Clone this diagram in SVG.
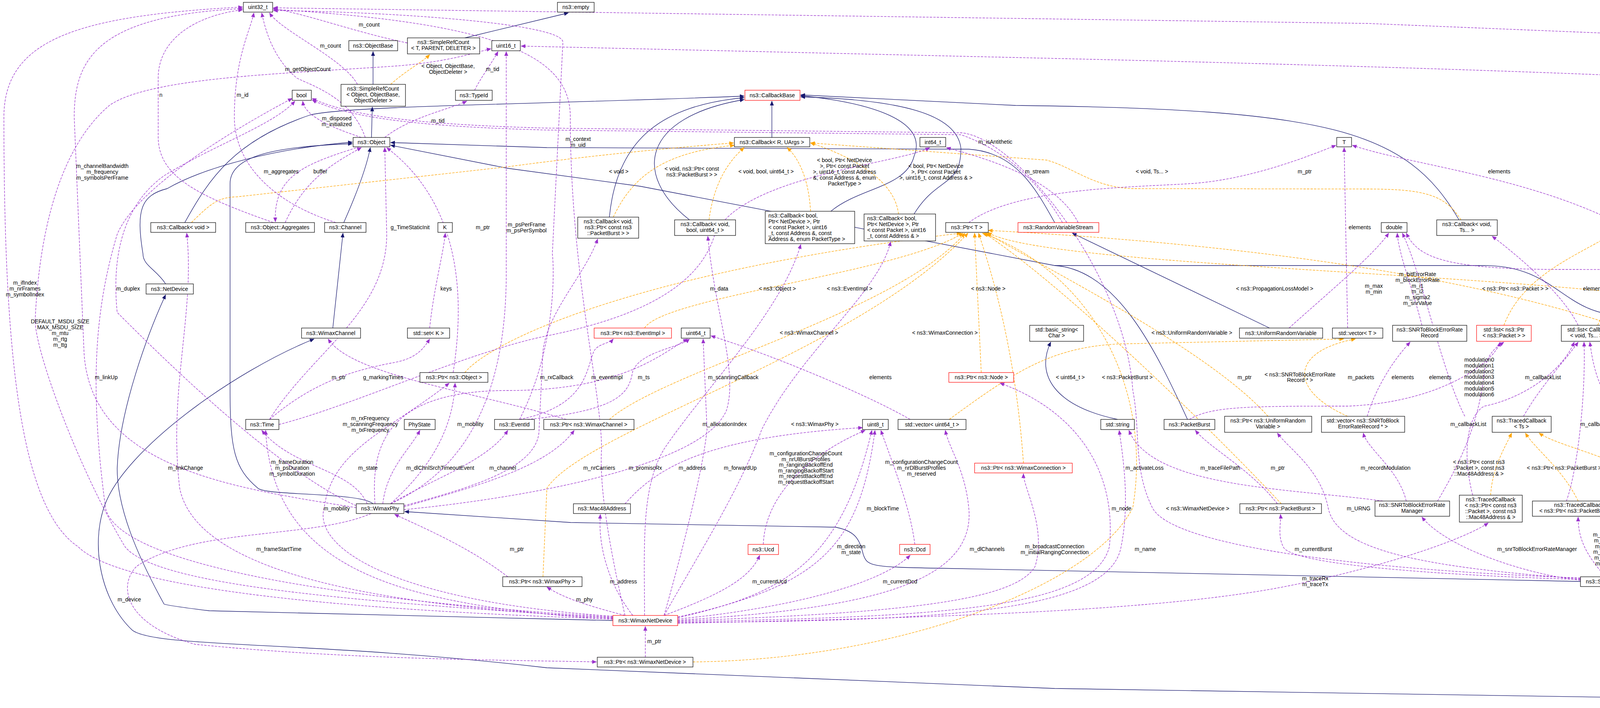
<svg xmlns="http://www.w3.org/2000/svg" width="5339" height="1813" viewBox="0 0 5339 1813">
<style>
text{font-family:"Liberation Sans",Arial,sans-serif;font-size:14px;fill:#000}
.c{text-anchor:middle}
.b rect{fill:#fff;stroke:#000;stroke-width:1.2}
.r rect{fill:#fff;stroke:#f00;stroke-width:1.2}
.g rect{fill:#bfbfbf;stroke:#000;stroke-width:1.2}
.u{fill:none;stroke:#9a32cd;stroke-width:1.3;stroke-dasharray:6,3;marker-end:url(#mu)}
.i{fill:none;stroke:#191970;stroke-width:1.3;marker-end:url(#mi)}
.i0{fill:none;stroke:#191970;stroke-width:1.3}
.t{fill:none;stroke:orange;stroke-width:1.3;stroke-dasharray:6,3;marker-end:url(#mt)}
</style>
<defs>
<marker id="mu" markerWidth="12" markerHeight="10" refX="11" refY="5" orient="auto" markerUnits="userSpaceOnUse"><path d="M0,0 L12,5 L0,10 z" fill="#9a32cd"/></marker>
<marker id="mi" markerWidth="12" markerHeight="10" refX="11" refY="5" orient="auto" markerUnits="userSpaceOnUse"><path d="M0,0 L12,5 L0,10 z" fill="#191970"/></marker>
<marker id="mt" markerWidth="12" markerHeight="10" refX="11" refY="5" orient="auto" markerUnits="userSpaceOnUse"><path d="M0,0 L12,5 L0,10 z" fill="orange"/></marker>
</defs>
<rect width="5339" height="1813" fill="#fff"/>
<g id="edges">
<path class="i" d="M1190,97 L1455,33"/>
<path class="i" d="M955,216 L955,132"/>
<path class="i" d="M951,352 L953,274"/>
<path class="i" d="M473,570 C536,456 600,360 795,294 C900,270 1400,267 1905,246"/>
<path class="i" d="M880,570 C920,480 940,420 948,378"/>
<path class="i" d="M852,840 L878,597"/>
<path class="i" d="M424,727 C400,690 366,680 366,650 C348,539 360,500 428,483 C520,430 700,380 902,364"/>
<path class="i" d="M1569,1589 L1400,1585 L536,1564 C470,1556 430,1550 420,1547 C350,1420 300,1300 300,1200 C305,1050 380,850 424,755"/>
<path class="i" d="M955,1290 C920,1260 680,1270 660,1250 C600,1200 589,1150 589,1000 L589,470 C589,400 700,375 902,368"/>
<path class="i" d="M4046,1489 L2400,1455 C2230,1452 2220,1450 2210,1420 C2200,1380 2190,1360 2139,1350 L1461,1338 L1036,1310"/>
<path class="i" d="M4719,1795 L2700,1763 L1400,1710 C800,1640 400,1660 339,1614 C260,1540 230,1400 268,1294 C320,1150 600,950 804,868"/>
<path class="i" d="M1976,352 L1976,259"/>
<path class="i" d="M1560,556 C1580,350 1700,270 1905,250"/>
<path class="i" d="M1765,563 C1620,450 1640,300 1905,255"/>
<path class="i" d="M2127,541 C2200,480 2320,480 2340,400 C2380,300 2200,260 2050,245"/>
<path class="i" d="M2340,548 C2400,450 2460,480 2460,380 C2450,290 2300,255 2050,248"/>
<path class="i" d="M3735,563 C3600,330 3400,280 2600,270 L2050,243"/>
<path class="i" d="M2700,570 C2650,480 2600,390 2480,382 L1400,378 L1000,365"/>
<path class="i" d="M3250,840 L2745,597"/>
<path class="i" d="M3040,1074 C2960,900 2860,690 2700,680 L1639,477 L1300,431 L1000,372"/>
<path class="i0" d="M4560,1074 C4450,900 4250,810 4144,807 C4000,800 3980,680 3800,680 L2700,680"/>
<path class="i" d="M2861,1074 C2700,1040 2650,960 2690,876"/>
<path class="t" d="M1000,216 C1040,180 1080,160 1100,140"/>
<path class="t" d="M490,570 C540,520 560,505 607,504 L1300,427 C1500,400 1700,380 1878,366"/>
<path class="t" d="M1570,556 C1620,450 1700,390 1880,372"/>
<path class="t" d="M1815,563 C1830,450 1880,400 1905,378"/>
<path class="t" d="M2075,541 C2070,450 2040,400 2015,378"/>
<path class="t" d="M2300,548 C2290,450 2150,390 2075,366"/>
<path class="t" d="M3740,563 C3700,500 3650,484 3500,484 L2900,483 C2800,480 2750,430 2680,410 L2075,366"/>
<path class="t" d="M1190,954 C1250,880 1600,700 2460,597"/>
<path class="t" d="M1650,840 C1700,760 2300,700 2465,597"/>
<path class="t" d="M1560,1074 C1700,950 2300,800 2470,597"/>
<path class="t" d="M2512,954 L2495,597"/>
<path class="t" d="M2620,1186 C2600,900 2540,700 2505,597"/>
<path class="t" d="M1390,1477 L1400,1250 C1500,1100 2200,900 2478,597"/>
<path class="t" d="M1774,1695 C2300,1690 2800,1500 2900,1300 C2950,1000 2800,700 2515,597"/>
<path class="t" d="M3280,1290 C3150,1150 2750,750 2520,597"/>
<path class="t" d="M3246,1066 C3100,900 2700,700 2525,597"/>
<path class="t" d="M4550,833 C4400,700 2700,700 2528,595"/>
<path class="t" d="M4835,1569 C4900,1200 4600,700 2530,590"/>
<path class="t" d="M2430,1074 C2600,950 2700,880 2900,880 L3440,868"/>
<path class="t" d="M3450,1066 C3300,1000 3300,900 3470,868"/>
<path class="t" d="M3850,833 C3900,700 4050,650 4130,597"/>
<path class="t" d="M4090,833 C4150,700 4160,650 4165,597"/>
<path class="t" d="M4360,1074 C4350,800 4300,650 4200,597"/>
<path class="t" d="M4870,1676 C5100,1500 5200,1000 4215,595"/>
<path class="t" d="M3816,1268 C3820,1200 3850,1150 3870,1109"/>
<path class="t" d="M4040,1283 C4000,1200 3930,1150 3905,1109"/>
<path class="t" d="M4260,1275 C4200,1180 4000,1150 3940,1109"/>
<path class="u" d="M1043,110 C900,80 800,40 700,22"/>
<path class="u" d="M915,216 C880,150 720,80 690,33"/>
<path class="u" d="M935,352 C900,250 800,220 760,200 C700,150 680,80 670,33"/>
<path class="u" d="M925,352 C860,330 780,300 775,259"/>
<path class="u" d="M985,352 C1050,300 1150,280 1195,259"/>
<path class="u" d="M1215,231 C1230,200 1260,160 1275,132"/>
<path class="u" d="M700,570 C500,500 405,450 405,350 L405,200 C405,100 500,40 621,25"/>
<path class="u" d="M860,570 C700,520 600,420 600,300 C600,150 640,80 650,33"/>
<path class="u" d="M920,376 C780,420 700,450 705,568"/>
<path class="u" d="M730,570 C780,460 850,420 925,378"/>
<path class="u" d="M690,1074 C800,900 990,800 990,600 L985,378"/>
<path class="u" d="M1160,954 C1200,700 1150,500 990,378"/>
<path class="u" d="M1000,1290 C1200,1200 1296,1000 1296,700 L1296,132"/>
<path class="u" d="M912,1300 C600,1250 230,1200 215,900 L190,300 C190,150 250,40 621,22"/>
<path class="u" d="M1569,1585 C800,1560 300,1500 200,1400 C50,1300 10,900 10,300 C10,100 200,40 621,18"/>
<path class="u" d="M1569,1583 C900,1540 400,1500 320,1400 C200,1200 90,900 90,820 C100,600 150,380 280,270 C380,200 700,190 1000,170 C1150,160 1230,130 1257,125"/>
<path class="u" d="M1569,1580 C900,1540 300,1450 270,1300 C230,1000 240,800 300,600 C350,480 600,330 748,252"/>
<path class="u" d="M912,1295 C700,1200 400,900 300,800 C280,600 350,500 420,450 C550,370 700,320 755,259"/>
<path class="u" d="M1569,1582 C900,1550 500,1450 460,1250 C430,1000 500,800 478,597"/>
<path class="u" d="M1569,1578 C1000,1540 800,1400 830,1300 C850,1150 1000,1100 1150,981"/>
<path class="u" d="M1000,1290 C1100,1200 1160,1100 1165,981"/>
<path class="u" d="M1450,1074 C1200,1000 900,960 840,868"/>
<path class="u" d="M690,1074 C800,980 900,950 1000,930 C1060,920 1080,900 1100,868"/>
<path class="u" d="M1100,840 C1110,740 1135,650 1140,597"/>
<path class="u" d="M960,1290 C950,1150 980,1000 1300,1000 C1600,1000 1700,900 1760,868"/>
<path class="u" d="M980,1290 C990,1200 1050,1150 1075,1102"/>
<path class="u" d="M940,1290 C900,1200 750,1200 670,1102"/>
<path class="u" d="M1000,1290 C1100,1230 1250,1180 1300,1102"/>
<path class="u" d="M1034,1298 C1200,1250 1400,1200 1470,1102"/>
<path class="u" d="M1569,1586 C1000,1550 700,1450 680,1102"/>
<path class="u" d="M1300,1477 C1200,1400 1080,1350 1010,1317"/>
<path class="u" d="M950,1315 C800,1380 500,1350 350,1450 C300,1500 320,1600 500,1650 C900,1690 1300,1690 1527,1695"/>
<path class="u" d="M1600,1576 C1500,1550 1440,1530 1400,1503"/>
<path class="u" d="M1620,1576 C1560,1500 1530,1400 1537,1317"/>
<path class="u" d="M1600,1290 C1680,1200 1800,1120 2208,1095"/>
<path class="u" d="M1700,1576 C1850,1520 1920,1480 1945,1422"/>
<path class="u" d="M1735,1585 C2000,1560 2250,1500 2330,1422"/>
<path class="u" d="M1652,1683 L1652,1604"/>
<path class="u" d="M1600,1576 C1560,1400 1534,1250 1540,1150 C1540,1000 1460,700 1460,300 C1460,150 1300,60 700,24"/>
<path class="u" d="M1330,1074 C1420,900 1420,700 1414,650 L1441,108 C1441,60 1000,30 700,27"/>
<path class="u" d="M1650,1576 C1650,1400 1640,1250 1700,1150 C1800,1000 2000,800 2050,626"/>
<path class="u" d="M1700,1576 C1800,1400 1895,1250 1950,1100 C2050,900 2250,750 2280,619"/>
<path class="u" d="M1034,1295 C1200,1250 1380,1200 1380,1100 L1390,900 C1400,800 1500,700 1530,612"/>
<path class="u" d="M1330,1074 C1500,1040 1500,950 1520,900 C1530,880 1560,880 1570,868"/>
<path class="u" d="M1350,1074 C1600,1050 1610,1000 1620,950 C1640,900 1740,890 1765,868"/>
<path class="u" d="M714,1087 C900,1040 1200,900 1400,860 C1700,800 1800,700 1830,600 C1900,450 2300,420 2380,378"/>
<path class="u" d="M1034,1305 C1300,1280 1800,1200 1860,1050 C1890,950 1830,800 1812,605"/>
<path class="u" d="M2330,1074 C2200,1000 1950,900 1820,860"/>
<path class="u" d="M1700,1576 C1750,1400 1800,1200 1810,1100 L1800,868"/>
<path class="u" d="M1954,1394 C1960,1250 2100,1150 2215,1102"/>
<path class="u" d="M2342,1394 C2330,1300 2290,1200 2255,1102"/>
<path class="u" d="M1735,1580 C2100,1500 2200,1400 2240,1102"/>
<path class="u" d="M1735,1582 C2000,1520 2150,1450 2232,1102"/>
<path class="u" d="M1735,1588 C2200,1560 2500,1500 2480,1300 C2470,1200 2430,1150 2420,1102"/>
<path class="u" d="M1735,1590 C2300,1570 2600,1540 2650,1450 C2680,1350 2620,1250 2620,1213"/>
<path class="u" d="M1735,1592 C2400,1580 2800,1560 2840,1400 C2860,1200 2750,1050 2560,981"/>
<path class="u" d="M1735,1594 C2400,1590 2840,1570 2870,1400 C2890,1300 2880,1200 2865,1102"/>
<path class="u" d="M4046,1480 C3500,1460 3000,1400 2950,1300 C2900,1200 2920,1100 2900,1000 C2880,700 2600,350 2460,340 L1400,328 C1100,320 900,300 799,252"/>
<path class="u" d="M2720,570 C2650,450 2560,380 2460,345 L1400,333 C1100,325 900,305 799,256"/>
<path class="u" d="M2760,570 C2700,450 2500,400 2423,378"/>
<path class="u" d="M3540,1283 C3300,1250 2950,1250 2890,1102"/>
<path class="u" d="M3270,1290 C3200,1200 3100,1150 3060,1102"/>
<path class="u" d="M4046,1482 C3600,1450 3420,1400 3400,1300 C3380,1200 3300,1150 3270,1109"/>
<path class="u" d="M4046,1484 C3600,1470 3300,1440 3285,1400 C3270,1370 3280,1340 3278,1317"/>
<path class="u" d="M4046,1486 C3900,1470 3700,1400 3640,1324"/>
<path class="u" d="M3600,1283 C3580,1200 3500,1150 3490,1109"/>
<path class="u" d="M3045,1074 C3100,1040 3200,1040 3450,1040 C3700,1030 3830,920 3840,876"/>
<path class="u" d="M3500,1066 C3520,1000 3560,930 3610,876"/>
<path class="u" d="M3680,1283 C3760,1150 3790,1050 3800,950 C3810,900 3830,890 3850,876"/>
<path class="u" d="M3750,1066 C3690,950 3640,700 3590,597"/>
<path class="u" d="M3900,1066 C3950,980 4010,920 4040,876"/>
<path class="u" d="M3770,1268 C3740,1150 3760,1060 3800,1040 C3900,1020 4000,950 4030,876"/>
<path class="u" d="M4010,1283 C4040,1200 4060,1000 4055,876"/>
<path class="u" d="M4300,1275 C4320,1200 4280,1100 4200,1080 C4100,1050 4080,950 4070,876"/>
<path class="u" d="M3640,833 C3620,750 3580,650 3577,597"/>
<path class="u" d="M3300,840 C3400,750 3520,650 3555,597"/>
<path class="u" d="M3450,840 L3441,378"/>
<path class="u" d="M4140,570 C3900,450 3600,420 3462,372"/>
<path class="u" d="M2480,570 C2600,480 2900,480 3050,470 C3200,460 3350,400 3420,372"/>
<path class="u" d="M4040,833 C4000,750 3880,650 3820,605"/>
<path class="u" d="M4520,1074 C4500,1000 4500,930 4530,876"/>
<path class="u" d="M4560,874 L4560,1072"/>
<path class="u" d="M4200,1477 C4600,1350 4790,1200 4790,1000 C4790,700 4600,690 4000,690 C3700,690 3630,660 3600,597"/>
<path class="u" d="M4249,1480 C4500,1400 4880,1300 4880,1000 L4880,250 C4870,230 4500,190 2500,145 L1334,118"/>
<path class="u" d="M4249,1485 C4700,1420 5091,1250 5091,900 L5091,125 L3500,60 L700,20"/>
<path class="u" d="M4230,1477 C4400,1400 4390,1200 4365,1102"/>
<path class="u" d="M4110,1477 C4060,1420 4040,1380 4040,1324"/>
<path class="u" d="M4180,1477 C4230,1420 4255,1380 4260,1332"/>
<path class="u" d="M1735,1596 C2500,1580 3000,1560 3300,1500 C3550,1450 3750,1380 3810,1339"/>
<path class="u" d="M4900,1782 C4990,1740 5000,1700 5000,1600 L5000,1300 C4990,1100 4700,900 4610,876"/>
<path class="u" d="M4736,1585 C4500,1550 4350,1510 4251,1504"/>
<path class="u" d="M4835,1676 L4835,1611"/>
<path class="u" d="M4835,1782 L4835,1718"/>
</g>
<g id="labels">
<text class="c" x="945" y="68">m_count</text>
<text class="c" x="846" y="122">m_count</text>
<text class="c" x="1147" y="174">&lt; Object, ObjectBase,<tspan x="1147" dy="15">ObjectDeleter &gt;</tspan></text>
<text class="c" x="1261" y="182">m_tid</text>
<text class="c" x="788" y="182">m_getObjectCount</text>
<text class="c" x="412" y="248">n</text>
<text class="c" x="621" y="248">m_id</text>
<text class="c" x="862" y="308">m_disposed<tspan x="862" dy="15">m_initialized</tspan></text>
<text class="c" x="1121" y="314">m_tid</text>
<text class="c" x="262" y="430">m_channelBandwidth<tspan x="262" dy="15">m_frequency</tspan><tspan x="262" dy="15">m_symbolsPerFrame</tspan></text>
<text class="c" x="720" y="444">m_aggregates</text>
<text class="c" x="820" y="444">buffer</text>
<text class="c" x="1050" y="587">g_TimeStaticInit</text>
<text class="c" x="1236" y="587">m_ptr</text>
<text class="c" x="1348" y="580">m_psPerFrame<tspan x="1348" dy="15">m_psPerSymbol</tspan></text>
<text class="c" x="1480" y="361">m_context<tspan x="1480" dy="15">m_uid</tspan></text>
<text class="c" x="1584" y="444">&lt; void &gt;</text>
<text class="c" x="1771" y="437">&lt; void, ns3::Ptr&lt; const<tspan x="1771" dy="15">ns3::PacketBurst &gt; &gt;</tspan></text>
<text class="c" x="1961" y="444">&lt; void, bool, uint64_t &gt;</text>
<text class="c" x="2162" y="415">&lt; bool, Ptr&lt; NetDevice<tspan x="2162" dy="15">&gt;, Ptr&lt; const Packet</tspan><tspan x="2162" dy="15">&gt;, uint16_t, const Address</tspan><tspan x="2162" dy="15">&amp;, const Address &amp;, enum</tspan><tspan x="2162" dy="15">PacketType &gt;</tspan></text>
<text class="c" x="2396" y="430">&lt; bool, Ptr&lt; NetDevice<tspan x="2396" dy="15">&gt;, Ptr&lt; const Packet</tspan><tspan x="2396" dy="15">&gt;, uint16_t, const Address &amp; &gt;</tspan></text>
<text class="c" x="2548" y="368">m_isAntithetic</text>
<text class="c" x="2655" y="444">m_stream</text>
<text class="c" x="2949" y="444">&lt; void, Ts... &gt;</text>
<text class="c" x="3340" y="444">m_ptr</text>
<text class="c" x="3838" y="444">elements</text>
<text class="c" x="3481" y="587">elements</text>
<text class="c" x="5167" y="514">m_currentBurstSize<tspan x="5167" dy="14.6">m_dataRateBpsk12</tspan><tspan x="5167" dy="14.6">m_dataRateQam16_12</tspan><tspan x="5167" dy="14.6">m_dataRateQam16_34</tspan><tspan x="5167" dy="14.6">m_dataRateQam64_23</tspan><tspan x="5167" dy="14.6">m_dataRateQam64_34</tspan><tspan x="5167" dy="14.6">m_dataRateQpsk12</tspan><tspan x="5167" dy="14.6">m_dataRateQpsk34</tspan><tspan x="5167" dy="14.6">m_nrFecBlocksSent</tspan><tspan x="5167" dy="14.6">m_paddingBits</tspan><tspan x="5167" dy="14.6">...</tspan></text>
<text class="c" x="64" y="729">m_ifIndex<tspan x="64" dy="15">m_nrFrames</tspan><tspan x="64" dy="15">m_symbolIndex</tspan></text>
<text class="c" x="328" y="744">m_duplex</text>
<text class="c" x="1142" y="744">keys</text>
<text class="c" x="154" y="828">DEFAULT_MSDU_SIZE<tspan x="154" dy="15">MAX_MSDU_SIZE</tspan><tspan x="154" dy="15">m_mtu</tspan><tspan x="154" dy="15">m_rtg</tspan><tspan x="154" dy="15">m_ttg</tspan></text>
<text class="c" x="272" y="971">m_linkUp</text>
<text class="c" x="867" y="971">m_ptr</text>
<text class="c" x="981" y="971">g_markingTimes</text>
<text class="c" x="948" y="1076">m_rxFrequency<tspan x="948" dy="15">m_scanningFrequency</tspan><tspan x="948" dy="15">m_txFrequency</tspan></text>
<text class="c" x="1204" y="1091">m_mobility</text>
<text class="c" x="475" y="1203">m_linkChange</text>
<text class="c" x="748" y="1188">m_frameDuration<tspan x="748" dy="15">m_psDuration</tspan><tspan x="748" dy="15">m_symbolDuration</tspan></text>
<text class="c" x="942" y="1203">m_state</text>
<text class="c" x="1127" y="1203">m_dlChnlSrchTimeoutEvent</text>
<text class="c" x="1287" y="1203">m_channel</text>
<text class="c" x="1841" y="744">m_data</text>
<text class="c" x="1990" y="744">&lt; ns3::Object &gt;</text>
<text class="c" x="2175" y="744">&lt; ns3::EventImpl &gt;</text>
<text class="c" x="2530" y="744">&lt; ns3::Node &gt;</text>
<text class="c" x="2071" y="857">&lt; ns3::WimaxChannel &gt;</text>
<text class="c" x="2419" y="857">&lt; ns3::WimaxConnection &gt;</text>
<text class="c" x="1425" y="971">m_rxCallback</text>
<text class="c" x="1554" y="971">m_eventImpl</text>
<text class="c" x="1648" y="971">m_ts</text>
<text class="c" x="1877" y="971">m_scanningCallback</text>
<text class="c" x="2254" y="971">elements</text>
<text class="c" x="1855" y="1091">m_allocationIndex</text>
<text class="c" x="2086" y="1091">&lt; ns3::WimaxPhy &gt;</text>
<text class="c" x="1534" y="1203">m_nrCarriers</text>
<text class="c" x="1652" y="1203">m_promiscRx</text>
<text class="c" x="1772" y="1203">m_address</text>
<text class="c" x="1895" y="1203">m_forwardUp</text>
<text class="c" x="2063" y="1166">m_configurationChangeCount<tspan x="2063" dy="14.6">m_nrUlBurstProfiles</tspan><tspan x="2063" dy="14.6">m_rangingBackoffEnd</tspan><tspan x="2063" dy="14.6">m_rangingBackoffStart</tspan><tspan x="2063" dy="14.6">m_requestBackoffEnd</tspan><tspan x="2063" dy="14.6">m_requestBackoffStart</tspan></text>
<text class="c" x="2359" y="1188">m_configurationChangeCount<tspan x="2359" dy="15">m_nrDlBurstProfiles</tspan><tspan x="2359" dy="15">m_reserved</tspan></text>
<text class="c" x="3263" y="744">&lt; ns3::PropagationLossModel &gt;</text>
<text class="c" x="3517" y="737">m_max<tspan x="3517" dy="15">m_min</tspan></text>
<text class="c" x="3629" y="707">m_bitErrorRate<tspan x="3629" dy="14.8">m_blockErrorRate</tspan><tspan x="3629" dy="14.8">m_i1</tspan><tspan x="3629" dy="14.8">m_i2</tspan><tspan x="3629" dy="14.8">m_sigma2</tspan><tspan x="3629" dy="14.8">m_snrValue</tspan></text>
<text class="c" x="3879" y="744">&lt; ns3::Ptr&lt; ns3::Packet &gt; &gt;</text>
<text class="c" x="3051" y="857">&lt; ns3::UniformRandomVariable &gt;</text>
<text class="c" x="2740" y="971">&lt; uint64_t &gt;</text>
<text class="c" x="2886" y="971">&lt; ns3::PacketBurst &gt;</text>
<text class="c" x="3186" y="971">m_ptr</text>
<text class="c" x="3328" y="964">&lt; ns3::SNRToBlockErrorRate<tspan x="3328" dy="14">Record * &gt;</tspan></text>
<text class="c" x="3484" y="971">m_packets</text>
<text class="c" x="3591" y="971">elements</text>
<text class="c" x="3687" y="971">elements</text>
<text class="c" x="3787" y="926">modulation0<tspan x="3787" dy="14.8">modulation1</tspan><tspan x="3787" dy="14.8">modulation2</tspan><tspan x="3787" dy="14.8">modulation3</tspan><tspan x="3787" dy="14.8">modulation4</tspan><tspan x="3787" dy="14.8">modulation5</tspan><tspan x="3787" dy="14.8">modulation6</tspan></text>
<text class="c" x="3950" y="971">m_callbackList</text>
<text class="c" x="3759" y="1091">m_callbackList</text>
<text class="c" x="2930" y="1203">m_activateLoss</text>
<text class="c" x="3124" y="1203">m_traceFilePath</text>
<text class="c" x="3271" y="1203">m_ptr</text>
<text class="c" x="3547" y="1203">m_recordModulation</text>
<text class="c" x="3786" y="1188">&lt; ns3::Ptr&lt; const ns3<tspan x="3786" dy="15">::Packet &gt;, const ns3</tspan><tspan x="3786" dy="15">::Mac48Address &amp; &gt;</tspan></text>
<text class="c" x="4010" y="1203">&lt; ns3::Ptr&lt; ns3::PacketBurst &gt; &gt;</text>
<text class="c" x="4081" y="744">elements</text>
<text class="c" x="4257" y="744">&lt; Callback&lt; void, Ts... &gt; &gt;</text>
<text class="c" x="4407" y="857">&lt; bvec &gt;</text>
<text class="c" x="4521" y="971">m_next</text>
<text class="c" x="4576" y="971">m_ptr</text>
<text class="c" x="4092" y="1091">m_callbackList</text>
<text class="c" x="4234" y="1091">m_callbackList</text>
<text class="c" x="4975" y="700">m_blockSize<tspan x="4975" dy="14.7">m_fecBlockSize</tspan><tspan x="4975" dy="14.7">m_nbErroneousBlock</tspan><tspan x="4975" dy="14.7">m_nfft</tspan><tspan x="4975" dy="14.7">m_nrBlocks</tspan><tspan x="4975" dy="14.7">m_nrRecivedFecBlocks</tspan><tspan x="4975" dy="14.7">m_nrRemainingBlocksToSend</tspan></text>
<text class="c" x="4780" y="1054">m_bandWidth<tspan x="4780" dy="14.8">m_g</tspan><tspan x="4780" dy="14.8">m_noiseFigure</tspan><tspan x="4780" dy="14.8">m_rxGain</tspan><tspan x="4780" dy="14.8">m_txGain</tspan><tspan x="4780" dy="14.8">m_txPower</tspan></text>
<text class="c" x="4247" y="1195">&lt; ns3::Ptr&lt; const ns3<tspan x="4247" dy="15">::PacketBurst &gt; &gt;</tspan></text>
<text class="c" x="4990" y="1203">&lt; ns3::SimpleOfdmWimaxPhy &gt;</text>
<text class="c" x="862" y="1307">m_mobility</text>
<text class="c" x="714" y="1411">m_frameStartTime</text>
<text class="c" x="1323" y="1411">m_ptr</text>
<text class="c" x="331" y="1540">m_device</text>
<text class="c" x="2260" y="1307">m_blockTime</text>
<text class="c" x="2179" y="1404">m_direction<tspan x="2179" dy="15">m_state</tspan></text>
<text class="c" x="2527" y="1411">m_dlChannels</text>
<text class="c" x="1596" y="1494">m_address</text>
<text class="c" x="1970" y="1494">m_currentUcd</text>
<text class="c" x="2304" y="1494">m_currentDcd</text>
<text class="c" x="1496" y="1540">m_phy</text>
<text class="c" x="1675" y="1647">m_ptr</text>
<text class="c" x="2700" y="1404">m_broadcastConnection<tspan x="2700" dy="15">m_initialRangingConnection</tspan></text>
<text class="c" x="2871" y="1307">m_node</text>
<text class="c" x="2932" y="1411">m_name</text>
<text class="c" x="3066" y="1307">&lt; ns3::WimaxNetDevice &gt;</text>
<text class="c" x="3478" y="1307">m_URNG</text>
<text class="c" x="3362" y="1411">m_currentBurst</text>
<text class="c" x="3935" y="1411">m_snrToBlockErrorRateManager</text>
<text class="c" x="3367" y="1486">m_traceRx<tspan x="3367" dy="15">m_traceTx</tspan></text>
<text class="c" x="4465" y="1300">m_fecBlocks<tspan x="4465" dy="15">m_receivedFecBlocks</tspan></text>
<text class="c" x="5235" y="1300">&lt; ns3::Ptr&lt; ns3::SimpleOfdm<tspan x="5235" dy="15">WimaxPhy &gt; &gt;</tspan></text>
<text class="c" x="4143" y="1374">m_phyRxBeginTrace<tspan x="4143" dy="14.8">m_phyRxDropTrace</tspan><tspan x="4143" dy="14.8">m_phyRxEndTrace</tspan><tspan x="4143" dy="14.8">m_phyTxBeginTrace</tspan><tspan x="4143" dy="14.8">m_phyTxDropTrace</tspan><tspan x="4143" dy="14.8">m_phyTxEndTrace</tspan></text>
<text class="c" x="4293" y="1404">m_traceRx<tspan x="4293" dy="15">m_traceTx</tspan></text>
<text class="c" x="5022" y="1494">m_loss</text>
<text class="c" x="4535" y="1540">m_ptr</text>
<text class="c" x="4869" y="1647">elements</text>
<text class="c" x="4872" y="1754">m_phyList</text>
</g>
<g id="n1" class="b"><rect x="623" y="6" width="75" height="25"/><text class="c" x="660" y="23">uint32_t</text></g>
<g id="n2" class="b"><rect x="1427" y="6" width="94" height="25"/><text class="c" x="1474" y="23">ns3::empty</text></g>
<g id="n3" class="b"><rect x="893" y="104" width="125" height="26"/><text class="c" x="955" y="122">ns3::ObjectBase</text></g>
<g id="n4" class="b"><rect x="1043" y="97" width="185" height="41"/><text class="c" x="1135" y="113">ns3::SimpleRefCount<tspan x="1135" dy="15">&lt; T, PARENT, DELETER &gt;</tspan></text></g>
<g id="n5" class="b"><rect x="1259" y="104" width="73" height="26"/><text class="c" x="1295" y="122">uint16_t</text></g>
<g id="n6" class="b"><rect x="748" y="231" width="49" height="26"/><text class="c" x="772" y="249">bool</text></g>
<g id="n7" class="b"><rect x="873" y="216" width="165" height="56"/><text class="c" x="955" y="232">ns3::SimpleRefCount<tspan x="955" dy="15">&lt; Object, ObjectBase,</tspan><tspan x="955" dy="15">ObjectDeleter &gt;</tspan></text></g>
<g id="n8" class="b"><rect x="1166" y="231" width="94" height="26"/><text class="c" x="1213" y="249">ns3::TypeId</text></g>
<g id="n9" class="r"><rect x="1907" y="231" width="141" height="26"/><text class="c" x="1977" y="249">ns3::CallbackBase</text></g>
<g id="n10" class="b"><rect x="904" y="352" width="94" height="24"/><text class="c" x="951" y="369">ns3::Object</text></g>
<g id="n11" class="b"><rect x="1880" y="352" width="193" height="24"/><text class="c" x="1976" y="369">ns3::Callback&lt; R, UArgs &gt;</text></g>
<g id="n12" class="b"><rect x="2355" y="352" width="66" height="24"/><text class="c" x="2388" y="369">int64_t</text></g>
<g id="n13" class="b"><rect x="3422" y="352" width="38" height="24"/><text class="c" x="3441" y="369">T</text></g>
<g id="n14" class="b"><rect x="386" y="570" width="166" height="25"/><text class="c" x="469" y="587">ns3::Callback&lt; void &gt;</text></g>
<g id="n15" class="b"><rect x="629" y="570" width="176" height="25"/><text class="c" x="717" y="587">ns3::Object::Aggregates</text></g>
<g id="n16" class="b"><rect x="831" y="570" width="106" height="25"/><text class="c" x="884" y="587">ns3::Channel</text></g>
<g id="n17" class="b"><rect x="1121" y="570" width="37" height="25"/><text class="c" x="1139" y="587">K</text></g>
<g id="n18" class="b"><rect x="1479" y="556" width="156" height="54"/><text class="c" x="1557" y="572">ns3::Callback&lt; void,<tspan x="1557" dy="15">ns3::Ptr&lt; const ns3</tspan><tspan x="1557" dy="15">::PacketBurst &gt; &gt;</tspan></text></g>
<g id="n19" class="b"><rect x="1727" y="563" width="156" height="40"/><text class="c" x="1805" y="579">ns3::Callback&lt; void,<tspan x="1805" dy="15">bool, uint64_t &gt;</tspan></text></g>
<g id="n20" class="b"><rect x="1959" y="541" width="229" height="83"/><text x="1967" y="557">ns3::Callback&lt; bool,<tspan x="1967" dy="15">Ptr&lt; NetDevice &gt;, Ptr</tspan><tspan x="1967" dy="15">&lt; const Packet &gt;, uint16</tspan><tspan x="1967" dy="15">_t, const Address &amp;, const</tspan><tspan x="1967" dy="15">Address &amp;, enum PacketType &gt;</tspan></text></g>
<g id="n21" class="b"><rect x="2212" y="548" width="183" height="69"/><text x="2220" y="564">ns3::Callback&lt; bool,<tspan x="2220" dy="15">Ptr&lt; NetDevice &gt;, Ptr</tspan><tspan x="2220" dy="15">&lt; const Packet &gt;, uint16</tspan><tspan x="2220" dy="15">_t, const Address &amp; &gt;</tspan></text></g>
<g id="n22" class="b"><rect x="2421" y="570" width="109" height="25"/><text class="c" x="2475" y="587">ns3::Ptr&lt; T &gt;</text></g>
<g id="n23" class="r"><rect x="2606" y="570" width="207" height="25"/><text class="c" x="2709" y="587">ns3::RandomVariableStream</text></g>
<g id="n24" class="b"><rect x="3536" y="570" width="66" height="25"/><text class="c" x="3569" y="587">double</text></g>
<g id="n25" class="b"><rect x="3678" y="563" width="155" height="40"/><text class="c" x="3755" y="579">ns3::Callback&lt; void,<tspan x="3755" dy="15">Ts... &gt;</tspan></text></g>
<g id="n26" class="b"><rect x="4111" y="570" width="108" height="25"/><text class="c" x="4165" y="587">std::list&lt; T &gt;</text></g>
<g id="n27" class="b"><rect x="374" y="727" width="121" height="26"/><text class="c" x="434" y="745">ns3::NetDevice</text></g>
<g id="n28" class="b"><rect x="772" y="840" width="151" height="26"/><text class="c" x="847" y="858">ns3::WimaxChannel</text></g>
<g id="n29" class="b"><rect x="1043" y="840" width="108" height="26"/><text class="c" x="1097" y="858">std::set&lt; K &gt;</text></g>
<g id="n30" class="r"><rect x="1521" y="840" width="198" height="26"/><text class="c" x="1620" y="858">ns3::Ptr&lt; ns3::EventImpl &gt;</text></g>
<g id="n31" class="b"><rect x="1744" y="840" width="74" height="26"/><text class="c" x="1781" y="858">uint64_t</text></g>
<g id="n32" class="b"><rect x="2636" y="833" width="138" height="41"/><text class="c" x="2705" y="849">std::basic_string&lt;<tspan x="2705" dy="15">Char &gt;</tspan></text></g>
<g id="n33" class="b"><rect x="3173" y="840" width="213" height="26"/><text class="c" x="3279" y="858">ns3::UniformRandomVariable</text></g>
<g id="n34" class="b"><rect x="3411" y="840" width="129" height="26"/><text class="c" x="3475" y="858">std::vector&lt; T &gt;</text></g>
<g id="n35" class="b"><rect x="3565" y="833" width="190" height="41"/><text class="c" x="3660" y="849">ns3::SNRToBlockErrorRate<tspan x="3660" dy="15">Record</tspan></text></g>
<g id="n36" class="r"><rect x="3780" y="833" width="140" height="41"/><text class="c" x="3850" y="849">std::list&lt; ns3::Ptr<tspan x="3850" dy="15">&lt; ns3::Packet &gt; &gt;</tspan></text></g>
<g id="n37" class="b"><rect x="3997" y="833" width="141" height="41"/><text class="c" x="4067" y="849">std::list&lt; Callback<tspan x="4067" dy="15">&lt; void, Ts... &gt; &gt;</tspan></text></g>
<g id="n38" class="b"><rect x="4456" y="833" width="195" height="41"/><text class="c" x="4553" y="849">ns3::Ptr&lt; ns3::Propagation<tspan x="4553" dy="15">LossModel &gt;</tspan></text></g>
<g id="n39" class="b"><rect x="1075" y="954" width="174" height="25"/><text class="c" x="1162" y="971">ns3::Ptr&lt; ns3::Object &gt;</text></g>
<g id="n40" class="r"><rect x="2429" y="954" width="166" height="25"/><text class="c" x="2512" y="971">ns3::Ptr&lt; ns3::Node &gt;</text></g>
<g id="n41" class="b"><rect x="629" y="1074" width="85" height="26"/><text class="c" x="671" y="1092">ns3::Time</text></g>
<g id="n42" class="b"><rect x="1035" y="1074" width="79" height="26"/><text class="c" x="1074" y="1092">PhyState</text></g>
<g id="n43" class="b"><rect x="1266" y="1074" width="102" height="26"/><text class="c" x="1317" y="1092">ns3::EventId</text></g>
<g id="n44" class="b"><rect x="1392" y="1074" width="231" height="26"/><text class="c" x="1507" y="1092">ns3::Ptr&lt; ns3::WimaxChannel &gt;</text></g>
<g id="n45" class="b"><rect x="2208" y="1074" width="66" height="26"/><text class="c" x="2241" y="1092">uint8_t</text></g>
<g id="n46" class="b"><rect x="2299" y="1074" width="174" height="26"/><text class="c" x="2386" y="1092">std::vector&lt; uint64_t &gt;</text></g>
<g id="n47" class="b"><rect x="2818" y="1074" width="86" height="26"/><text class="c" x="2861" y="1092">std::string</text></g>
<g id="n48" class="b"><rect x="2980" y="1074" width="130" height="26"/><text class="c" x="3045" y="1092">ns3::PacketBurst</text></g>
<g id="n49" class="b"><rect x="3135" y="1066" width="223" height="41"/><text class="c" x="3246" y="1082">ns3::Ptr&lt; ns3::UniformRandom<tspan x="3246" dy="15">Variable &gt;</tspan></text></g>
<g id="n50" class="b"><rect x="3383" y="1066" width="213" height="41"/><text class="c" x="3489" y="1082">std::vector&lt; ns3::SNRToBlock<tspan x="3489" dy="15">ErrorRateRecord * &gt;</tspan></text></g>
<g id="n51" class="b"><rect x="3820" y="1066" width="151" height="41"/><text class="c" x="3895" y="1082">ns3::TracedCallback<tspan x="3895" dy="15">&lt; Ts &gt;</tspan></text></g>
<g id="n52" class="b"><rect x="4295" y="1074" width="130" height="26"/><text class="c" x="4360" y="1092">std::list&lt; bvec &gt;</text></g>
<g id="n53" class="b"><rect x="4450" y="1074" width="198" height="26"/><text class="c" x="4549" y="1092">ns3::PropagationLossModel</text></g>
<g id="n54" class="r"><rect x="2495" y="1186" width="250" height="25"/><text class="c" x="2620" y="1203">ns3::Ptr&lt; ns3::WimaxConnection &gt;</text></g>
<g id="n55" class="b"><rect x="912" y="1290" width="122" height="25"/><text class="c" x="973" y="1307">ns3::WimaxPhy</text></g>
<g id="n56" class="b"><rect x="1468" y="1290" width="146" height="25"/><text class="c" x="1541" y="1307">ns3::Mac48Address</text></g>
<g id="n57" class="b"><rect x="3174" y="1290" width="209" height="25"/><text class="c" x="3278" y="1307">ns3::Ptr&lt; ns3::PacketBurst &gt;</text></g>
<g id="n58" class="b"><rect x="3520" y="1283" width="191" height="39"/><text class="c" x="3615" y="1298">ns3::SNRToBlockErrorRate<tspan x="3615" dy="15">Manager</tspan></text></g>
<g id="n59" class="b"><rect x="3736" y="1268" width="161" height="69"/><text class="c" x="3816" y="1284">ns3::TracedCallback<tspan x="3816" dy="15">&lt; ns3::Ptr&lt; const ns3</tspan><tspan x="3816" dy="15">::Packet &gt;, const ns3</tspan><tspan x="3816" dy="15">::Mac48Address &amp; &gt;</tspan></text></g>
<g id="n60" class="b"><rect x="3923" y="1283" width="238" height="39"/><text class="c" x="4042" y="1298">ns3::TracedCallback<tspan x="4042" dy="15">&lt; ns3::Ptr&lt; ns3::PacketBurst &gt; &gt;</tspan></text></g>
<g id="n61" class="b"><rect x="4186" y="1275" width="163" height="55"/><text class="c" x="4267" y="1291">ns3::TracedCallback<tspan x="4267" dy="15">&lt; ns3::Ptr&lt; const ns3</tspan><tspan x="4267" dy="15">::PacketBurst &gt; &gt;</tspan></text></g>
<g id="n62" class="r"><rect x="1915" y="1394" width="78" height="26"/><text class="c" x="1954" y="1412">ns3::Ucd</text></g>
<g id="n63" class="r"><rect x="2303" y="1394" width="78" height="26"/><text class="c" x="2342" y="1412">ns3::Dcd</text></g>
<g id="n64" class="b"><rect x="1287" y="1477" width="203" height="25"/><text class="c" x="1388" y="1494">ns3::Ptr&lt; ns3::WimaxPhy &gt;</text></g>
<g id="n65" class="b"><rect x="4046" y="1477" width="203" height="25"/><text class="c" x="4147" y="1494">ns3::SimpleOfdmWimaxPhy</text></g>
<g id="n66" class="r"><rect x="1569" y="1576" width="166" height="26"/><text class="c" x="1652" y="1594">ns3::WimaxNetDevice</text></g>
<g id="n67" class="b"><rect x="4736" y="1569" width="199" height="40"/><text class="c" x="4835" y="1585">ns3::Ptr&lt; ns3::SimpleOfdm<tspan x="4835" dy="15">WimaxPhy &gt;</tspan></text></g>
<g id="n68" class="b"><rect x="1529" y="1683" width="245" height="25"/><text class="c" x="1651" y="1700">ns3::Ptr&lt; ns3::WimaxNetDevice &gt;</text></g>
<g id="n69" class="b"><rect x="4711" y="1676" width="249" height="40"/><text x="4719" y="1692">std::list&lt; ns3::Ptr<tspan x="4719" dy="15">&lt; ns3::SimpleOfdmWimaxPhy &gt; &gt;</tspan></text></g>
<g id="n70" class="g"><rect x="4719" y="1782" width="233" height="25"/><text class="c" x="4835" y="1799">ns3::SimpleOfdmWimaxChannel</text></g>
</svg>
